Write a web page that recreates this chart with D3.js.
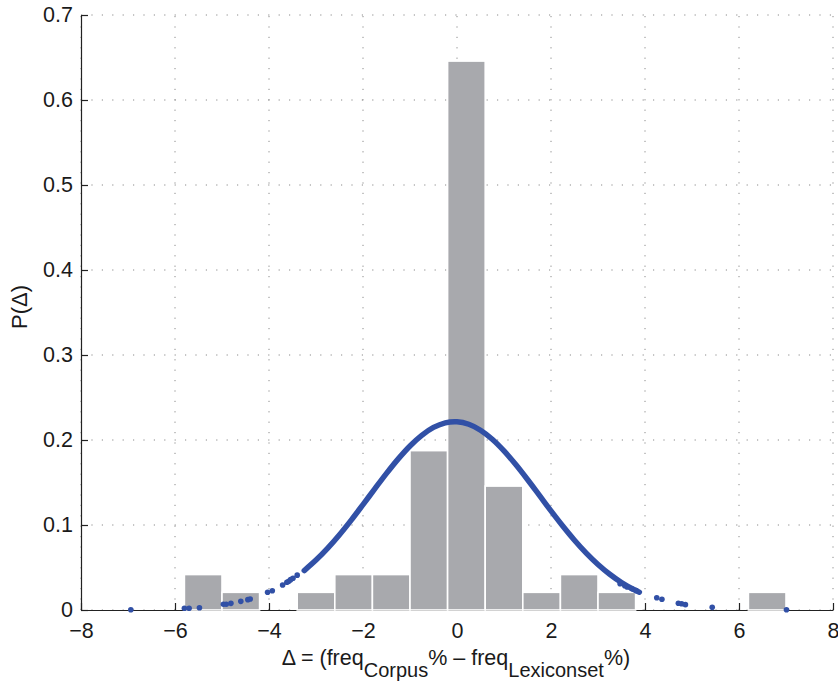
<!DOCTYPE html>
<html>
<head>
<meta charset="utf-8">
<script src="https://cdn.jsdelivr.net/npm/d3@7"></script>
<style>
  html, body { margin: 0; padding: 0; background: #fff; }
  svg { display: block; }
  text { font-family: "Liberation Sans", Arial, Helvetica, sans-serif; fill: #1a1a1a; }
</style>
</head>
<body>
<svg id="chart" width="838" height="682"></svg>
<script>
// ---- data ----
const binCenters = [-5.4, -4.6, -3.8, -3.0, -2.2, -1.4, -0.6, 0.2, 1.0, 1.8, 2.6, 3.4, 4.2, 5.0, 5.8, 6.6];
const binHeights = [0.0417, 0.0208, 0, 0.0208, 0.0417, 0.0417, 0.1875, 0.6458, 0.1458, 0.0208, 0.0417, 0.0208, 0, 0, 0, 0.0208];
const binWidth = 0.8;

// dense part of fitted curve
const curveX = [-3.25, -3.0, -2.75, -2.5, -2.25, -2.0, -1.75, -1.5, -1.25, -1.0, -0.75, -0.5, -0.25, 0,
                0.25, 0.5, 0.75, 1.0, 1.25, 1.5, 1.75, 2.0, 2.25, 2.5, 2.75, 3.0, 3.25, 3.5, 3.75, 3.88];
const curveY = [0.0464, 0.0587, 0.0728, 0.0886, 0.1058, 0.1240, 0.1425, 0.1607, 0.1778, 0.1930, 0.2055, 0.2148, 0.2202, 0.2214,
                0.2185, 0.2115, 0.2009, 0.1872, 0.1711, 0.1535, 0.1351, 0.1166, 0.0988, 0.0821, 0.0669, 0.0535, 0.0420, 0.0323, 0.0244, 0.0210];

// isolated dots in the tails
const dotX = [-6.94, -5.80, -5.70, -5.48, -4.97, -4.91, -4.81, -4.60, -4.45, -4.40, -4.03, -3.93,
              -3.71, -3.62, -3.58, -3.54, -3.49, -3.40,
              3.47, 3.57, 3.62, 3.72, 3.81, 4.25, 4.36, 4.71, 4.78, 4.86, 5.43, 7.01];
const dotY = [0.0003, 0.0020, 0.0020, 0.0027, 0.0067, 0.0067, 0.0078, 0.0102, 0.0122, 0.0129, 0.0208, 0.0227,
              0.0294, 0.0326, 0.0337, 0.0357, 0.0373, 0.0410,
              0.0310, 0.0285, 0.0272, 0.0250, 0.0228, 0.0145, 0.0126, 0.0080, 0.0074, 0.0063, 0.0031, 0.0003];

const xTicks = [-8, -6, -4, -2, 0, 2, 4, 6, 8];
const yTicks = [0, 0.1, 0.2, 0.3, 0.4, 0.5, 0.6, 0.7];

// ---- layout ----
const svg = d3.select("#chart");
const x = d3.scaleLinear().domain([-8, 8]).range([81, 833]);
const y = d3.scaleLinear().domain([0, 0.7]).range([610, 15]);

// grid
const grid = svg.append("g");
grid.selectAll("line.gx").data(xTicks).join("line")
  .attr("x1", d => x(d)).attr("x2", d => x(d))
  .attr("y1", y(0)).attr("y2", y(0.7))
  .attr("stroke", "#8a8a8a").attr("stroke-width", 1)
  .attr("stroke-dasharray", "1.2,9.2");
grid.selectAll("line.gy").data(yTicks).join("line")
  .attr("y1", d => y(d)).attr("y2", d => y(d))
  .attr("x1", x(-8)).attr("x2", x(8))
  .attr("stroke", "#8a8a8a").attr("stroke-width", 1)
  .attr("stroke-dasharray", "1.2,9.2");

// axes
const xAxis = d3.axisBottom(x).tickValues(xTicks).tickSizeInner(-7).tickSizeOuter(0).tickPadding(13)
  .tickFormat(d => d < 0 ? "\u2212" + Math.abs(d) : String(d));
const yAxis = d3.axisLeft(y).tickValues(yTicks).tickSizeInner(-7).tickSizeOuter(0).tickPadding(8)
  .tickFormat(d => d === 0 ? "0" : d.toFixed(1));

const gx = svg.append("g").attr("transform", `translate(0,${y(0)})`).call(xAxis);
const gy = svg.append("g").attr("transform", `translate(${x(-8)},0)`).call(yAxis);
[gx, gy].forEach(g => {
  g.selectAll("path.domain").attr("stroke", "#222").attr("stroke-width", 1.2);
  g.selectAll(".tick line").attr("stroke", "#222").attr("stroke-width", 1.2);
  g.selectAll(".tick text").attr("font-size", 21.5).attr("fill", "#1a1a1a")
    .attr("font-family", "'Liberation Sans', Arial, Helvetica, sans-serif");
});

// bars
const bins = binCenters.map((c, i) => ({ c, h: binHeights[i] })).filter(d => d.h > 0);
svg.append("g").selectAll("rect").data(bins).join("rect")
  .attr("x", d => x(d.c - binWidth / 2))
  .attr("width", d => x(d.c + binWidth / 2) - x(d.c - binWidth / 2))
  .attr("y", d => y(d.h))
  .attr("height", d => y(0) - y(d.h))
  .attr("fill", "#a8a9ad")
  .attr("stroke", "#ffffff").attr("stroke-width", 1.6);

// fitted curve (dense dots) and tail dots
const blue = "#3150a6";
const pts = curveX.map((v, i) => [v, curveY[i]]);
svg.append("path")
  .datum(pts)
  .attr("d", d3.line().x(d => x(d[0])).y(d => y(d[1])).curve(d3.curveCatmullRom))
  .attr("fill", "none").attr("stroke", blue).attr("stroke-width", 5.5)
  .attr("stroke-linecap", "round").attr("stroke-linejoin", "round");
svg.append("g").selectAll("circle").data(dotX.map((v, i) => [v, dotY[i]])).join("circle")
  .attr("cx", d => x(d[0])).attr("cy", d => y(d[1])).attr("r", 2.8).attr("fill", blue);

// axis labels
const xl = svg.append("text").attr("x", 456).attr("y", 665).attr("text-anchor", "middle").attr("font-size", 21.5);
xl.append("tspan").text("\u0394 = (freq");
xl.append("tspan").attr("dy", 12).attr("font-size", 20).text("Corpus");
xl.append("tspan").attr("dy", -12).text("% \u2013 freq");
xl.append("tspan").attr("dy", 12).attr("font-size", 20).text("Lexiconset");
xl.append("tspan").attr("dy", -12).text("%)");

svg.append("text")
  .attr("transform", "translate(27,307) rotate(-90)")
  .attr("text-anchor", "middle").attr("font-size", 22)
  .text("P(\u0394)");
</script>
</body>
</html>
